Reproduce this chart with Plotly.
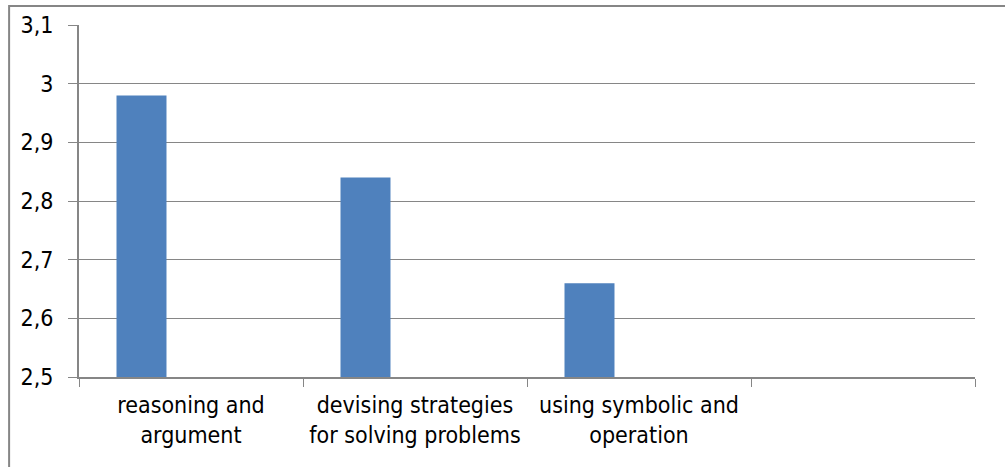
import plotly.graph_objects as go

categories = ["reasoning and<br>argument", "devising strategies<br>for solving problems",
              "using symbolic and<br>operation", " "]
series1 = [2.98, 2.84, 2.66, None]
y_ticks = [2.5, 2.6, 2.7, 2.8, 2.9, 3.0, 3.1]

FONT = "DejaVu Sans Condensed, Liberation Sans Narrow, sans-serif"
GRID = "#868686"

fig = go.Figure()
fig.add_trace(go.Bar(
    x=categories, y=series1, marker=dict(color="#4F81BD", line=dict(width=0)),
    width=0.2232, offset=-0.3326,
))

fig.update_layout(
    width=1005, height=467,
    margin=dict(l=79, r=30, t=25, b=90),
    paper_bgcolor="white", plot_bgcolor="white",
    separators=", ",
    showlegend=False,
    font=dict(family=FONT, size=22, color="black"),
    xaxis=dict(
        type="category", tickson="boundaries", ticks="outside", ticklen=8,
        tickcolor=GRID, showline=True, linecolor=GRID, linewidth=2,
        showgrid=False, tickfont=dict(family=FONT, size=23, color="black"),
        range=[-0.5, 3.5], ticklabelstandoff=6,
    ),
    yaxis=dict(
        range=[2.5, 3.1], tickvals=y_ticks, ticks="outside", ticklen=9,
        tickcolor=GRID, showline=True, linecolor=GRID, linewidth=2,
        showgrid=True, gridcolor=GRID, gridwidth=1,
        zeroline=False, tickfont=dict(family=FONT, size=23, color="black"),
        ticklabelstandoff=10,
    ),
    shapes=[dict(
        type="rect", xref="paper", yref="paper",
        x0=-0.078, x1=1.2, y0=-0.5, y1=1.054,
        line=dict(color=GRID, width=2), fillcolor="rgba(0,0,0,0)", layer="above",
    )],
)

fig.write_html("out.html")
